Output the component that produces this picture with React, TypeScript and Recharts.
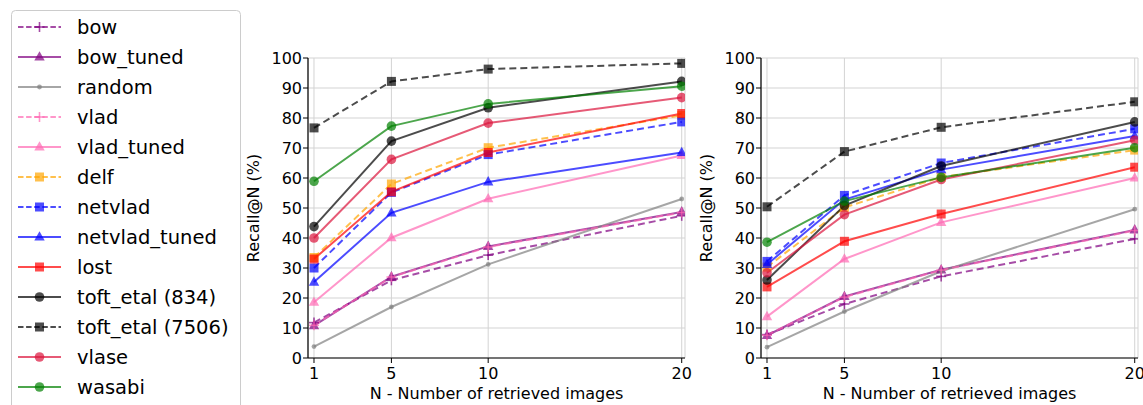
import React from 'react';
import { LineChart, Line, XAxis, YAxis, CartesianGrid, Label } from 'recharts';

const N_VALUES = [1, 5, 10, 20];
const Y_TICKS = [0, 10, 20, 30, 40, 50, 60, 70, 80, 90, 100];
const TITLES = ['Park Sparse Trees', 'Park Dense Trees'];
const X_LABEL = 'N - Number of retrieved images';
const Y_LABEL = 'Recall@N (%)';

// Park Sparse Trees
const sparseBow = [11.8, 25.9, 34.3, 47.4];
const sparseBowTuned = [10.8, 27.1, 37.2, 48.7];
const sparseRandom = [3.8, 17.0, 31.2, 53.0];
const sparseVlad = [10.9, 27.0, 37.0, 48.5];
const sparseVladTuned = [18.6, 40.1, 53.1, 67.5];
const sparseDelf = [33.5, 58.0, 70.1, 80.9];
const sparseNetvlad = [30.0, 55.2, 67.8, 78.7];
const sparseNetvladTuned = [25.3, 48.4, 58.7, 68.5];
const sparseLost = [33.0, 55.4, 68.5, 81.5];
const sparseToft834 = [43.8, 72.3, 83.4, 92.2];
const sparseToft7506 = [76.7, 92.2, 96.3, 98.2];
const sparseVlase = [40.0, 66.2, 78.3, 86.8];
const sparseWasabi = [58.9, 77.3, 84.7, 90.6];

// Park Dense Trees
const denseBow = [7.8, 18.0, 27.2, 39.7];
const denseBowTuned = [7.5, 20.5, 29.4, 42.7];
const denseRandom = [3.6, 15.5, 28.9, 49.6];
const denseVlad = [7.6, 20.3, 29.3, 42.5];
const denseVladTuned = [13.8, 33.0, 45.2, 60.0];
const denseDelf = [30.3, 50.2, 60.3, 69.3];
const denseNetvlad = [32.2, 54.2, 65.0, 76.4];
const denseNetvladTuned = [31.2, 52.8, 62.8, 74.0];
const denseLost = [23.7, 38.9, 48.0, 63.6];
const denseToft834 = [26.0, 50.8, 64.0, 78.7];
const denseToft7506 = [50.4, 68.8, 76.9, 85.4];
const denseVlase = [28.4, 47.8, 59.5, 72.6];
const denseWasabi = [38.6, 52.3, 60.2, 70.1];

type Shape = 'plus' | 'triangle' | 'dot' | 'square' | 'circle';
interface SeriesDef { key: string; name: string; color: string; dashed: boolean; shape: Shape; }

const SERIES: SeriesDef[] = [
  { key: 'bow', name: 'bow', color: '#800080', dashed: true, shape: 'plus' },
  { key: 'bow_tuned', name: 'bow_tuned', color: '#800080', dashed: false, shape: 'triangle' },
  { key: 'random', name: 'random', color: '#808080', dashed: false, shape: 'dot' },
  { key: 'vlad', name: 'vlad', color: '#ff69b4', dashed: true, shape: 'plus' },
  { key: 'vlad_tuned', name: 'vlad_tuned', color: '#ff69b4', dashed: false, shape: 'triangle' },
  { key: 'delf', name: 'delf', color: '#ffa500', dashed: true, shape: 'square' },
  { key: 'netvlad', name: 'netvlad', color: '#0000ff', dashed: true, shape: 'square' },
  { key: 'netvlad_tuned', name: 'netvlad_tuned', color: '#0000ff', dashed: false, shape: 'triangle' },
  { key: 'lost', name: 'lost', color: '#ff0000', dashed: false, shape: 'square' },
  { key: 'toft834', name: 'toft_etal (834)', color: '#000000', dashed: false, shape: 'circle' },
  { key: 'toft7506', name: 'toft_etal (7506)', color: '#000000', dashed: true, shape: 'square' },
  { key: 'vlase', name: 'vlase', color: '#dc143c', dashed: false, shape: 'circle' },
  { key: 'wasabi', name: 'wasabi', color: '#008000', dashed: false, shape: 'circle' },
];

const SPARSE: Record<string, number[]> = {
  bow: sparseBow, bow_tuned: sparseBowTuned, random: sparseRandom, vlad: sparseVlad,
  vlad_tuned: sparseVladTuned, delf: sparseDelf, netvlad: sparseNetvlad,
  netvlad_tuned: sparseNetvladTuned, lost: sparseLost, toft834: sparseToft834,
  toft7506: sparseToft7506, vlase: sparseVlase, wasabi: sparseWasabi,
};
const DENSE: Record<string, number[]> = {
  bow: denseBow, bow_tuned: denseBowTuned, random: denseRandom, vlad: denseVlad,
  vlad_tuned: denseVladTuned, delf: denseDelf, netvlad: denseNetvlad,
  netvlad_tuned: denseNetvladTuned, lost: denseLost, toft834: denseToft834,
  toft7506: denseToft7506, vlase: denseVlase, wasabi: denseWasabi,
};

function buildRows(src: Record<string, number[]>) {
  return N_VALUES.map((n, i) => {
    const row: Record<string, number> = { n };
    SERIES.forEach((s) => { row[s.key] = src[s.key][i]; });
    return row;
  });
}

const ALPHA = 0.7;
const DASH = '7 4';

function Marker({ shape, color, cx, cy }: { shape: Shape; color: string; cx: number; cy: number }) {
  switch (shape) {
    case 'square':
      return <rect x={cx - 4.5} y={cy - 4.5} width={9} height={9} fill={color} fillOpacity={ALPHA} />;
    case 'circle':
      return <circle cx={cx} cy={cy} r={4.8} fill={color} fillOpacity={ALPHA} />;
    case 'triangle':
      return <polygon points={`${cx},${cy - 5.8} ${cx - 5.2},${cy + 3.6} ${cx + 5.2},${cy + 3.6}`} fill={color} fillOpacity={ALPHA} />;
    case 'dot':
      return <circle cx={cx} cy={cy} r={2.4} fill={color} fillOpacity={ALPHA} />;
    case 'plus':
    default:
      return (
        <g stroke={color} strokeOpacity={ALPHA} strokeWidth={1.6}>
          <line x1={cx - 5} y1={cy} x2={cx + 5} y2={cy} />
          <line x1={cx} y1={cy - 5} x2={cx} y2={cy + 5} />
        </g>
      );
  }
}

function makeDot(s: SeriesDef) {
  return (props: any) => {
    const { cx, cy, index } = props;
    if (cx == null || cy == null) return <g key={`${s.key}-${index}`} />;
    return (
      <g key={`${s.key}-${index}`}>
        <Marker shape={s.shape} color={s.color} cx={cx} cy={cy} />
      </g>
    );
  };
}

const FONT = 'DejaVu Sans, sans-serif';
const X_DOMAIN: [number, number] = [0.69, 20.17];

function Panel({ rows, title, width, marginLeft, marginRight }: { rows: any[]; title: string; width: number; marginLeft: number; marginRight: number }) {
  return (
    <LineChart width={width} height={405} data={rows}
      margin={{ top: 58, right: marginRight, bottom: 7, left: marginLeft }}>
      <CartesianGrid stroke="#d3d3d3" strokeWidth={1} />
      <XAxis xAxisId={0} type="number" dataKey="n" domain={X_DOMAIN} allowDataOverflow ticks={N_VALUES}
        interval={0} height={40} tickSize={5} tickMargin={5}
        axisLine={{ stroke: '#000', strokeWidth: 1.2 }} tickLine={{ stroke: '#000' }}
        tick={{ fill: '#000', fontSize: 16, fontFamily: FONT }}>
        <Label content={(p: any) => {
          const vb = p.viewBox || {};
          return <text x={vb.x + vb.width / 2} y={vb.y + 41} textAnchor="middle" fontSize={16} fontFamily={FONT} fill="#000">{X_LABEL}</text>;
        }} />
      </XAxis>
      <XAxis xAxisId="top" orientation="top" type="number" dataKey="n" domain={X_DOMAIN} allowDataOverflow
        height={0} tick={false} tickLine={false} axisLine={{ stroke: '#000', strokeWidth: 1.2 }}>
        <Label content={(p: any) => {
          const vb = p.viewBox || {};
          return <text x={vb.x + vb.width / 2} y={vb.y - 10} textAnchor="middle" fontSize={16} fontFamily={FONT} fill="#000">{title}</text>;
        }} />
      </XAxis>
      <YAxis yAxisId={0} type="number" domain={[0, 100]} ticks={Y_TICKS} interval={0} width={60}
        tickSize={5} tickMargin={1} allowDataOverflow
        axisLine={{ stroke: '#000', strokeWidth: 1.2 }} tickLine={{ stroke: '#000' }}
        tick={{ fill: '#000', fontSize: 16, fontFamily: FONT }}>
        <Label content={(p: any) => {
          const vb = p.viewBox || {};
          const x = vb.x + 11;
          const y = vb.y + vb.height / 2;
          return <text x={x} y={y} transform={`rotate(-90, ${x}, ${y})`} textAnchor="middle" fontSize={16} fontFamily={FONT} fill="#000">{Y_LABEL}</text>;
        }} />
      </YAxis>
      <YAxis yAxisId="right" orientation="right" type="number" domain={[0, 100]} width={0}
        tick={false} tickLine={false} axisLine={{ stroke: '#000', strokeWidth: 1.2 }} />
      {SERIES.map((s) => (
        <Line key={s.key} xAxisId={0} yAxisId={0} type="linear" dataKey={s.key} name={s.name}
          stroke={s.color} strokeOpacity={ALPHA} strokeWidth={2}
          strokeDasharray={s.dashed ? DASH : undefined}
          dot={makeDot(s)} activeDot={false} isAnimationActive={false} />
      ))}
    </LineChart>
  );
}

function LegendBox() {
  return (
    <svg width={245} height={405} style={{ position: 'absolute', left: 0, top: 0 }}>
      <rect x={11.5} y={10.5} width={229} height={410} rx={4} fill="#fff" fillOpacity={0.8} stroke="#cccccc" />
      {SERIES.map((s, i) => {
        const y = 27 + i * 30;
        return (
          <g key={s.key}>
            <line x1={18} y1={y} x2={61} y2={y} stroke={s.color} strokeOpacity={ALPHA} strokeWidth={2}
              strokeDasharray={s.dashed ? '5.5 2.6' : undefined} />
            <Marker shape={s.shape} color={s.color} cx={39.5} cy={y} />
            <text x={77} y={y + 7} fontSize={19.5} fontFamily={FONT} fill="#000">{s.name}</text>
          </g>
        );
      })}
    </svg>
  );
}

export default function App() {
  const sparseRows = buildRows(SPARSE);
  const denseRows = buildRows(DENSE);
  return (
    <div style={{ position: 'absolute', left: 0, top: 0, width: 1143, height: 405, background: '#fff', fontFamily: FONT, overflow: 'hidden' }}>
      <div style={{ position: 'absolute', left: 0, top: 0 }}>
        <Panel rows={sparseRows} title={TITLES[0]} width={702} marginLeft={248} marginRight={17} />
      </div>
      <div style={{ position: 'absolute', left: 690, top: 0 }}>
        <Panel rows={denseRows} title={TITLES[1]} width={453} marginLeft={11} marginRight={5} />
      </div>
      <LegendBox />
    </div>
  );
}
